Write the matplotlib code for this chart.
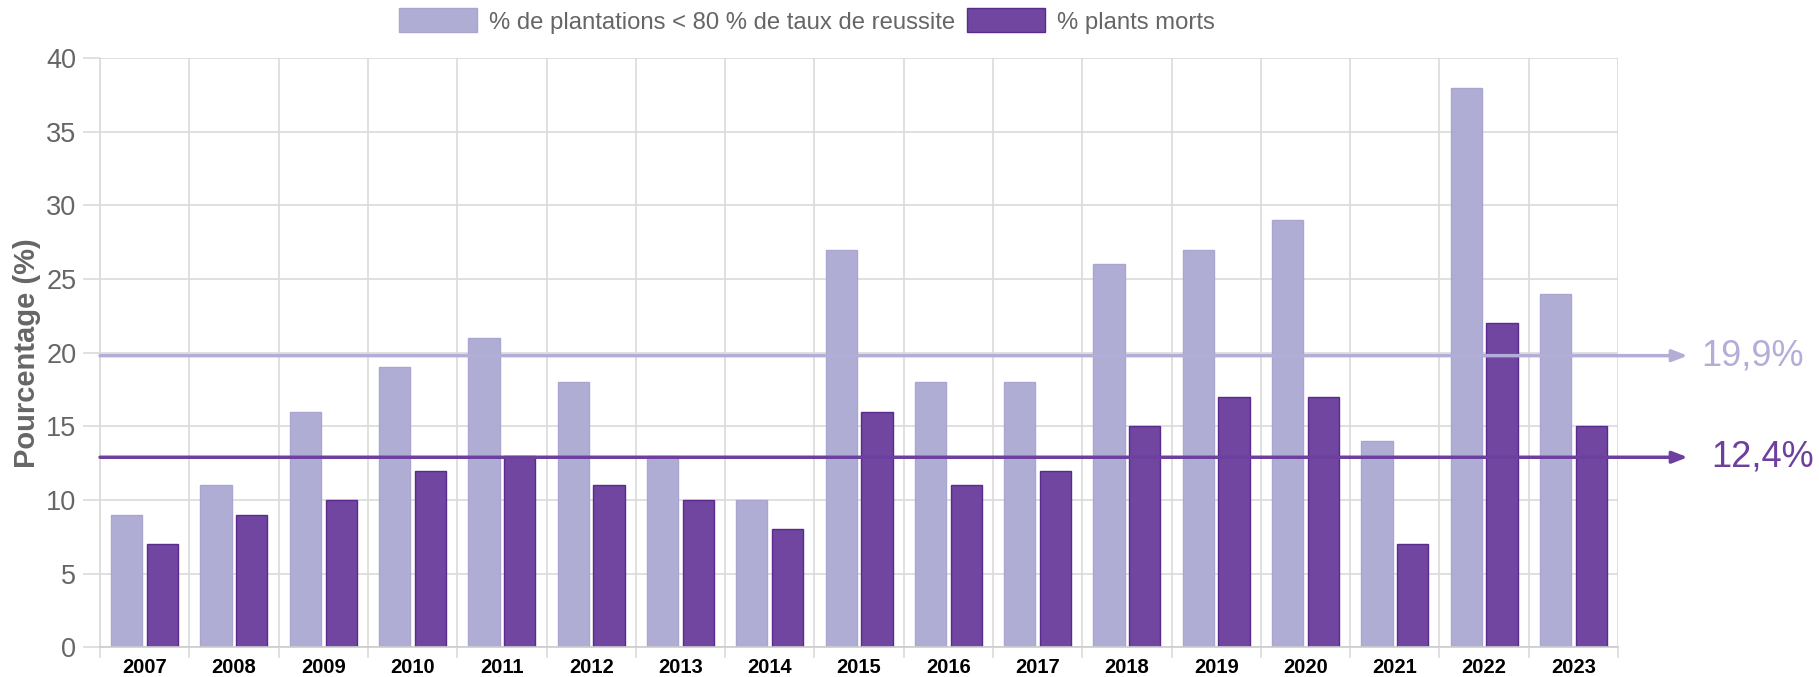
import matplotlib
matplotlib.use('Agg')
import matplotlib.pyplot as plt
import numpy as np

# données
years = ['2007', '2008', '2009', '2010', '2011', '2012', '2013', '2014', '2015',
         '2016', '2017', '2018', '2019', '2020', '2021', '2022', '2023']
pct_echec = [9, 11, 16, 19, 21, 18, 13, 10, 27, 18, 18, 26, 27, 29, 14, 38, 24]
pct_morts = [7, 9, 10, 12, 13, 11, 10, 8, 16, 11, 12, 15, 17, 17, 7, 22, 15]
labels = ['% de plantations < 80 % de taux de reussite', '% plants morts']
moy_niveaux = [19.8, 12.9]
moy_textes = ['19,9%', '12,4%']

c_clair = '#b0add5'
c_fonce = '#7046a0'
c_ligne_clair = '#b3aed8'
c_ligne_fonce = '#6d3f9e'
c_grille = '#dadada'

plt.rcParams['font.family'] = ['Liberation Sans', 'DejaVu Sans']

fig = plt.figure(figsize=(18.19, 6.77), dpi=100)
ax = fig.add_axes([0.055, 0.044, 0.8345, 0.870])

x = np.arange(len(years))
w = 0.35
b1 = ax.bar(x - 0.2, pct_echec, w, color=c_clair, edgecolor='#a9a5d0', linewidth=1, label=labels[0], zorder=2)
b2 = ax.bar(x + 0.2, pct_morts, w, color=c_fonce, edgecolor='#5a2a8e', linewidth=1, label=labels[1], zorder=2)

ax.set_xlim(-0.5, len(years) - 0.5)
ax.set_ylim(0, 40)
ax.set_yticks(np.arange(0, 41, 5))
ax.set_xticks(x)
ax.set_xticklabels(years, fontsize=14.5, fontweight='bold', color='black')
ax.set_xticks(np.arange(-0.5, len(years), 1), minor=True)
ax.tick_params(axis='x', which='major', length=0, pad=8)
ax.tick_params(axis='x', which='minor', length=8, color=c_grille, width=1.2)
ax.tick_params(axis='y', length=12, color=c_grille, width=1.2, labelsize=19.5, labelcolor='#666666', pad=5)

ax.grid(axis='y', which='major', color=c_grille, linewidth=1.2, zorder=0)
ax.grid(axis='x', which='minor', color=c_grille, linewidth=1.2, zorder=0)
ax.set_axisbelow(True)
for s in ['top', 'right']:
    ax.spines[s].set_visible(False)
ax.spines['left'].set_color(c_grille)
ax.spines['bottom'].set_color('#cccccc')
ax.spines['left'].set_linewidth(1.2)
ax.spines['bottom'].set_linewidth(1.2)

ax.set_ylabel('Pourcentage (%)', fontsize=21, fontweight='bold', color='#666666', labelpad=4)

# lignes moyennes avec flèches
for niveau, texte, col, tx in zip(moy_niveaux, moy_textes, [c_ligne_clair, c_ligne_fonce], [17.43, 17.54]):
    ax.annotate('', xy=(17.28, niveau), xytext=(-0.5, niveau), xycoords='data',
                arrowprops=dict(arrowstyle='-|>,head_length=0.9,head_width=0.35', color=col, lw=2.5,
                                shrinkA=0, shrinkB=0), annotation_clip=False, zorder=4)
    ax.text(tx, niveau, texte, color=col, fontsize=26, va='center', ha='left', clip_on=False)

leg = fig.legend(handles=[b1, b2], labels=labels, loc='center', bbox_to_anchor=(0.4435, 0.969), ncol=2,
                 frameon=False, fontsize=17.2, handlelength=3.27, handleheight=1.17,
                 handletextpad=0.5, columnspacing=0.5, labelcolor='#666666')

fig.savefig('out.png', dpi=100)
